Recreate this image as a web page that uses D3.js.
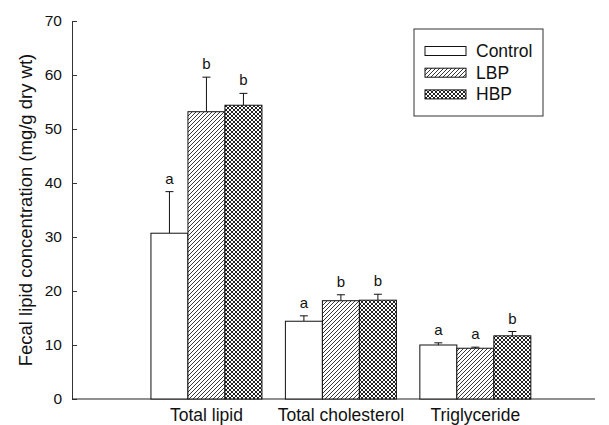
<!DOCTYPE html>
<html>
<head>
<meta charset="utf-8">
<script src="https://cdn.jsdelivr.net/npm/d3@7"></script>
<style>
  body { margin: 0; background: #fff; }
  text { font-family: "Liberation Sans", Arial, sans-serif; fill: #111; }
</style>
</head>
<body>
<script>
// data
var categories = ["Total lipid", "Total cholesterol", "Triglyceride"];
var groups = ["Control", "LBP", "HBP"];
var means = {
  Control: [30.7, 14.4, 10.0],
  LBP: [53.2, 18.2, 9.4],
  HBP: [54.4, 18.3, 11.7]
};
var errs = {
  Control: [7.7, 1.0, 0.4],
  LBP: [6.4, 1.1, 0.2],
  HBP: [2.2, 1.1, 0.8]
};
var letters = {
  Control: ["a", "a", "a"],
  LBP: ["b", "b", "a"],
  HBP: ["b", "b", "b"]
};
var yTicks = [0, 10, 20, 30, 40, 50, 60, 70];

var width = 609, height = 425;

var svg = d3.select("body").append("svg")
  .attr("width", width)
  .attr("height", height);

var defs = svg.append("defs");

// single hatch for LBP
var p1 = defs.append("pattern")
  .attr("id", "hatch")
  .attr("patternUnits", "userSpaceOnUse")
  .attr("width", 4).attr("height", 4);
p1.append("rect").attr("width", 4).attr("height", 4).attr("fill", "#fff");
p1.append("path")
  .attr("d", "M-1,1 l2,-2 M0,4 l4,-4 M3,5 l2,-2")
  .attr("stroke", "#222").attr("stroke-width", 0.9);

// cross hatch for HBP
var p2 = defs.append("pattern")
  .attr("id", "cross")
  .attr("patternUnits", "userSpaceOnUse")
  .attr("width", 4).attr("height", 4);
p2.append("rect").attr("width", 4).attr("height", 4).attr("fill", "#fff");
p2.append("path")
  .attr("d", "M-1,1 l2,-2 M0,4 l4,-4 M3,5 l2,-2 M-1,3 l2,2 M0,0 l4,4 M3,-1 l2,2")
  .attr("stroke", "#222").attr("stroke-width", 1);

var fills = { Control: "#fff", LBP: "url(#hatch)", HBP: "url(#cross)" };

var x = d3.scaleLinear().domain([0, 3.89]).range([72, 595]);
var y = d3.scaleLinear().domain([0, 70]).range([399, 21]);
var barW = 37;

// y axis
var yAxis = d3.axisLeft(y)
  .tickValues(yTicks)
  .tickSizeInner(-5)
  .tickSizeOuter(0)
  .tickPadding(10);

var gy = svg.append("g")
  .attr("transform", "translate(72,0)")
  .call(yAxis);
gy.select(".domain").attr("stroke", "#333");
gy.selectAll(".tick line").attr("stroke", "#333");
gy.selectAll(".tick text")
  .attr("font-size", 15.5)
  .attr("font-family", "Liberation Sans, Arial, sans-serif")
  .attr("fill", "#111");

// x axis line
svg.append("line")
  .attr("x1", x(0)).attr("x2", x(3.89))
  .attr("y1", y(0)).attr("y2", y(0))
  .attr("stroke", "#222").attr("stroke-width", 1.2);

// axis title
svg.append("text")
  .attr("transform", "translate(32," + (y(35)) + ")rotate(-90)")
  .attr("text-anchor", "middle")
  .attr("font-size", 18.5)
  .text("Fecal lipid concentration (mg/g dry wt)");

// category labels
svg.selectAll(".cat")
  .data(categories)
  .enter().append("text")
  .attr("class", "cat")
  .attr("x", function (d, i) { return x(i + 1); })
  .attr("y", 420.5)
  .attr("text-anchor", "middle")
  .attr("font-size", 17.5)
  .text(function (d) { return d; });

// bars
groups.forEach(function (g, gi) {
  var rows = categories.map(function (c, i) {
    return { i: i, v: means[g][i], e: errs[g][i], l: letters[g][i] };
  });
  var left = function (d) { return x(d.i + 1) + (gi - 1) * barW - barW / 2; };
  var mid = function (d) { return x(d.i + 1) + (gi - 1) * barW; };

  var gg = svg.append("g").attr("class", "series");

  // error bars (upper only)
  gg.selectAll(".err")
    .data(rows)
    .enter().append("line")
    .attr("x1", mid).attr("x2", mid)
    .attr("y1", function (d) { return y(d.v); })
    .attr("y2", function (d) { return y(d.v + d.e); })
    .attr("stroke", "#111");
  gg.selectAll(".cap")
    .data(rows)
    .enter().append("line")
    .attr("x1", function (d) { return mid(d) - 4; })
    .attr("x2", function (d) { return mid(d) + 4; })
    .attr("y1", function (d) { return y(d.v + d.e); })
    .attr("y2", function (d) { return y(d.v + d.e); })
    .attr("stroke", "#111");

  gg.selectAll("rect")
    .data(rows)
    .enter().append("rect")
    .attr("x", left)
    .attr("y", function (d) { return y(d.v); })
    .attr("width", barW)
    .attr("height", function (d) { return y(0) - y(d.v); })
    .attr("fill", fills[g])
    .attr("stroke", "#111")
    .attr("stroke-width", 1);

  gg.selectAll(".sig")
    .data(rows)
    .enter().append("text")
    .attr("x", mid)
    .attr("y", function (d) { return y(d.v + d.e) - 8; })
    .attr("text-anchor", "middle")
    .attr("font-size", 15)
    .text(function (d) { return d.l; });
});

// legend
var lg = svg.append("g");
lg.append("rect")
  .attr("x", 414).attr("y", 29)
  .attr("width", 129).attr("height", 87)
  .attr("fill", "#fff")
  .attr("stroke", "#333");
groups.forEach(function (g, i) {
  var cy = 51 + i * 21.7;
  lg.append("rect")
    .attr("x", 425).attr("y", cy - 4.5)
    .attr("width", 41).attr("height", 9)
    .attr("fill", fills[g])
    .attr("stroke", "#111");
  lg.append("text")
    .attr("x", 476).attr("y", cy + 6)
    .attr("font-size", 17.5)
    .text(g);
});
</script>
</body>
</html>
